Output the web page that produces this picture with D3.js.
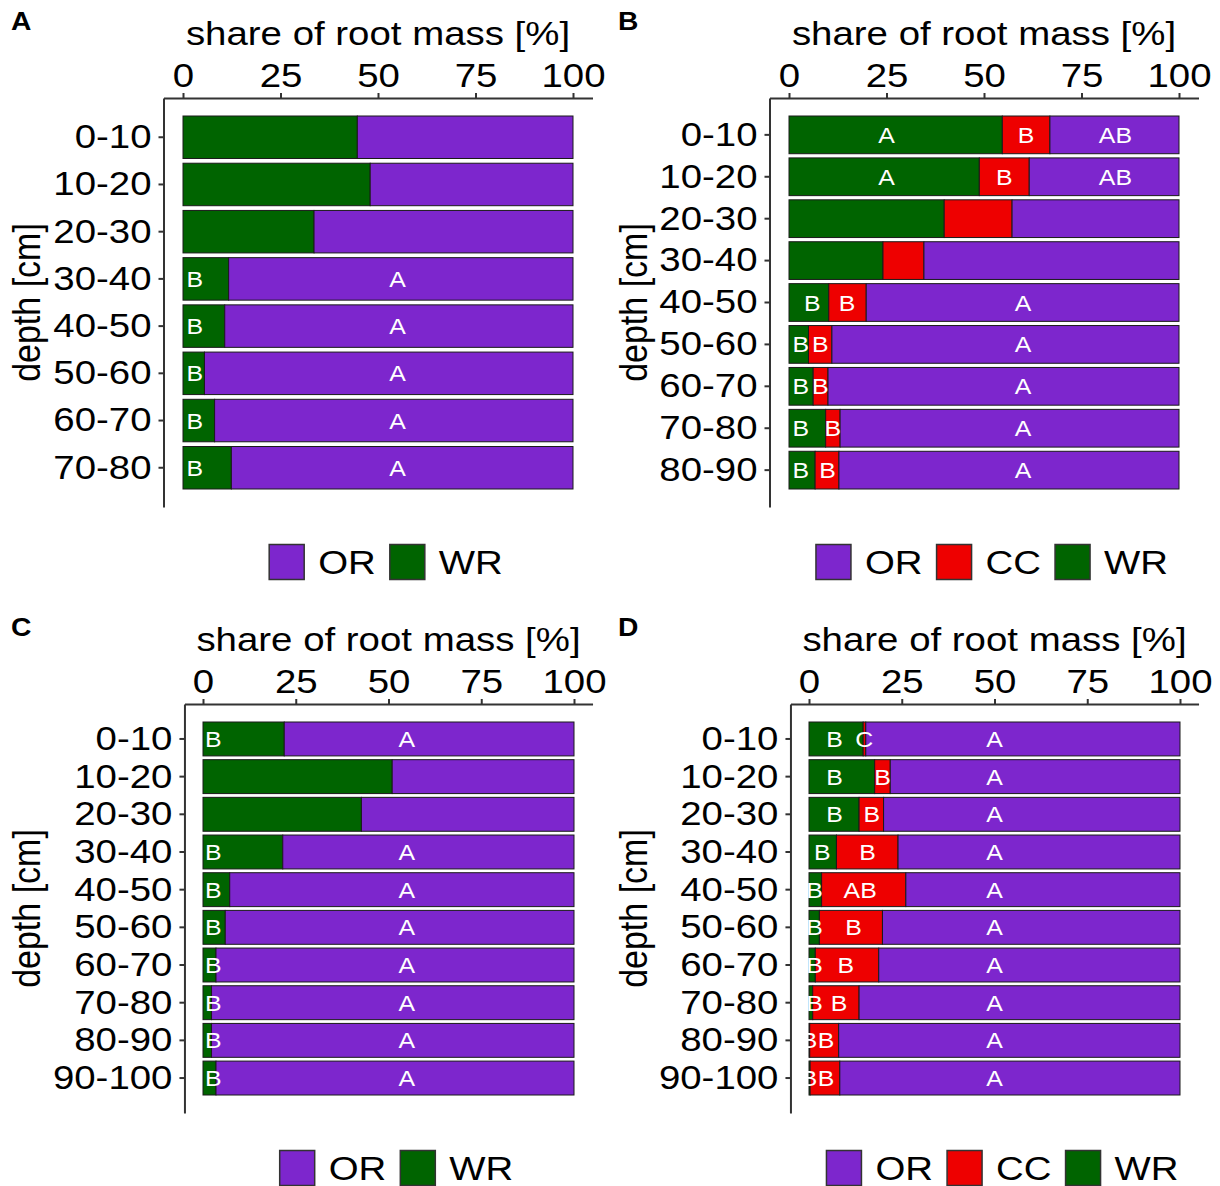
<!DOCTYPE html>
<html>
<head>
<meta charset="utf-8">
<script src="https://cdn.jsdelivr.net/npm/d3@7"></script>
<style>
  body { margin: 0; background: #fff; }
  text { font-family: "Liberation Sans", Arial, sans-serif; }
</style>
</head>
<body>
<svg id="fig" width="1220" height="1186"></svg>
<script>
// ---- data (share of root mass, %) ----
var depth8 = ["0-10", "10-20", "20-30", "30-40", "40-50", "50-60", "60-70", "70-80"];
var depth9 = depth8.concat(["80-90"]);
var depth10 = depth9.concat(["90-100"]);

var wrA = [44.7, 48.0, 33.6, 11.7, 10.7, 5.5, 8.1, 12.4];
var wrB = [54.7, 48.8, 39.8, 24.1, 10.2, 5.0, 6.2, 9.4, 6.7];
var ccB = [12.2, 12.8, 17.4, 10.5, 9.6, 6.0, 3.8, 3.7, 6.1];
var wrC = [21.9, 51.0, 42.7, 21.5, 7.2, 6.0, 3.5, 2.3, 2.3, 3.5];
var wrD = [14.6, 17.7, 13.5, 7.4, 3.4, 2.8, 1.7, 1.0, 0.2, 0.3];
var ccD = [0.7, 4.2, 6.6, 16.6, 22.7, 17.0, 17.1, 12.5, 7.8, 8.0];

// significance letters and where they sit (in % of the x axis)
var letWrA = ["", "", "", "B", "B", "B", "B", "B"];
var letOrA = ["", "", "", "A", "A", "A", "A", "A"];
var atWrA = [3, 3, 3, 3, 3, 3, 3, 3];
var atOrA = [55, 55, 55, 55, 55, 55, 55, 55];

var letWrB = ["A", "A", "", "", "B", "B", "B", "B", "B"];
var letCcB = ["B", "B", "", "", "B", "B", "B", "B", "B"];
var letOrB = ["AB", "AB", "", "", "A", "A", "A", "A", "A"];
var atWrB = [25, 25, 0, 0, 6, 3, 3, 3, 3];
var atCcB = [60.8, 55.2, 0, 0, 14.9, 8, 8, 11.2, 9.9];
var atOrB = [83.7, 83.7, 0, 0, 60, 60, 60, 60, 60];

var letWrC = ["B", "", "", "B", "B", "B", "B", "B", "B", "B"];
var letOrC = ["A", "", "", "A", "A", "A", "A", "A", "A", "A"];
var atWrC = [2.8, 2.8, 2.8, 2.8, 2.8, 2.8, 2.8, 2.8, 2.8, 2.8];
var atOrC = [54.9, 54.9, 54.9, 54.9, 54.9, 54.9, 54.9, 54.9, 54.9, 54.9];

var letWrD = ["B", "B", "B", "B", "B", "B", "B", "B", "B", "B"];
var letCcD = ["C", "B", "B", "B", "AB", "B", "B", "B", "B", "B"];
var letOrD = ["A", "A", "A", "A", "A", "A", "A", "A", "A", "A"];
var atWrD = [6.9, 6.9, 6.9, 3.6, 1.5, 1.5, 1.5, 1.5, 0.0, 0.0];
var atCcD = [14.9, 19.8, 16.9, 15.8, 13.8, 12.0, 9.9, 8.1, 4.6, 4.6];
var atOrD = [50, 50, 50, 50, 50, 50, 50, 50, 50, 50];

var xTicks = [0, 25, 50, 75, 100];
var colors = {OR: "#7D26CD", CC: "#EE0000", WR: "#006400"};

// text in the figure is a bit wider than plain Arial
var SX = 1.13;

var svg = d3.select("#fig");

function stext(sel, x, y, str, size, anchor, rot) {
	var g = sel.append("g")
		.attr("transform", "translate(" + x + "," + y + ") scale(" + SX + ",1)" + (rot ? " rotate(-90)" : ""));
	return g.append("text")
		.attr("text-anchor", anchor)
		.style("font-size", size + "px")
		.text(str);
}

function orOf(wr, cc) {
	return wr.map(function(v, i) { return 100 - v - (cc ? cc[i] : 0); });
}

/////////////////////////////////////////////
// one panel
function drawPanel(p) {
	var g = svg.append("g");
	var span = p.x1 - p.x0;
	var x = d3.scaleLinear().domain([-5, 105]).range([p.x0 - 0.05 * span, p.x1 + 0.05 * span]);

	var n = p.depths.length, pin = 0.1, gap = 18, L = p.bottom - p.top;
	var y = d3.scaleBand().domain(p.depths).range([p.top, p.bottom])
		.paddingInner(pin)
		.paddingOuter(gap * (n - pin) / (L - 2 * gap));

	// stacked segments: WR, CC, OR from the left
	var rows = p.depths.map(function(d, i) {
		var segs = [], acc = 0;
		p.series.forEach(function(s) {
			segs.push({key: s.key, x0: acc, x1: acc + s.values[i], lab: s.letters[i], at: s.at[i], depth: d});
			acc += s.values[i];
		});
		return segs;
	});
	var segs = d3.merge(rows);

	g.selectAll("rect.seg").data(segs).enter().append("rect").classed("seg", true)
		.attr("x", function(d) { return x(d.x0); })
		.attr("width", function(d) { return x(d.x1) - x(d.x0); })
		.attr("y", function(d) { return y(d.depth); })
		.attr("height", y.bandwidth())
		.attr("fill", function(d) { return colors[d.key]; })
		.attr("stroke", "#1a1a1a")
		.attr("stroke-width", 1);

	segs.filter(function(d) { return d.lab; }).forEach(function(d) {
		stext(g, x(d.at), y(d.depth) + y.bandwidth() / 2 + 8, d.lab, 22, "middle")
			.attr("fill", "#fff");
	});

	// axes
	var ax = g.append("g").attr("transform", "translate(0," + p.top + ")")
		.call(d3.axisTop(x).tickValues(xTicks).tickSize(5).tickPadding(6).tickSizeOuter(0));
	var ay = g.append("g").attr("transform", "translate(" + x(-5) + ",0)")
		.call(d3.axisLeft(y).tickSize(5).tickPadding(5.6).tickSizeOuter(0));
	[ax, ay].forEach(function(a) {
		a.select(".domain").attr("stroke", "#333").attr("stroke-width", 2);
		a.selectAll(".tick line").attr("stroke", "#333").attr("stroke-width", 2);
		a.selectAll(".tick text").attr("fill", "#000").style("font-size", "34px")
			.style("font-family", "'Liberation Sans', Arial, sans-serif")
			.attr("transform", "scale(" + SX + ",1)");
	});

	stext(g, x(50), p.top - 53, "share of root mass [%]", 34, "middle");
	stext(g, p.left + 40, (p.top + p.bottom) / 2, "depth [cm]", 34, "middle", true);
	stext(g, p.left + 11, p.top - 68, p.id, 25, "start").style("font-weight", "bold");

	// legend, centred under the plot
	var lg = g.append("g");
	var cy = p.bottom + 55, cur = 0;
	p.series.slice().reverse().forEach(function(s) {
		lg.append("rect").attr("x", cur).attr("y", cy - 17.5).attr("width", 35).attr("height", 35)
			.attr("fill", colors[s.key]).attr("stroke", "#333").attr("stroke-width", 1.5);
		var t = stext(lg, cur + 49, cy + 12, s.key, 34, "start");
		cur += 49 + t.node().getComputedTextLength() * SX + 14;
	});
	cur -= 14;
	lg.attr("transform", "translate(" + ((x(-5) + x(105)) / 2 + 8 - cur / 2) + ",0)");
}

drawPanel({id: "A", left: 0, x0: 183, x1: 573, top: 98, bottom: 507, depths: depth8,
	series: [{key: "WR", values: wrA, letters: letWrA, at: atWrA},
	         {key: "OR", values: orOf(wrA), letters: letOrA, at: atOrA}]});

drawPanel({id: "B", left: 607, x0: 789, x1: 1179, top: 98, bottom: 507, depths: depth9,
	series: [{key: "WR", values: wrB, letters: letWrB, at: atWrB},
	         {key: "CC", values: ccB, letters: letCcB, at: atCcB},
	         {key: "OR", values: orOf(wrB, ccB), letters: letOrB, at: atOrB}]});

drawPanel({id: "C", left: 0, x0: 203, x1: 574, top: 704, bottom: 1113, depths: depth10,
	series: [{key: "WR", values: wrC, letters: letWrC, at: atWrC},
	         {key: "OR", values: orOf(wrC), letters: letOrC, at: atOrC}]});

drawPanel({id: "D", left: 607, x0: 809, x1: 1180, top: 704, bottom: 1113, depths: depth10,
	series: [{key: "WR", values: wrD, letters: letWrD, at: atWrD},
	         {key: "CC", values: ccD, letters: letCcD, at: atCcD},
	         {key: "OR", values: orOf(wrD, ccD), letters: letOrD, at: atOrD}]});
</script>
</body>
</html>
